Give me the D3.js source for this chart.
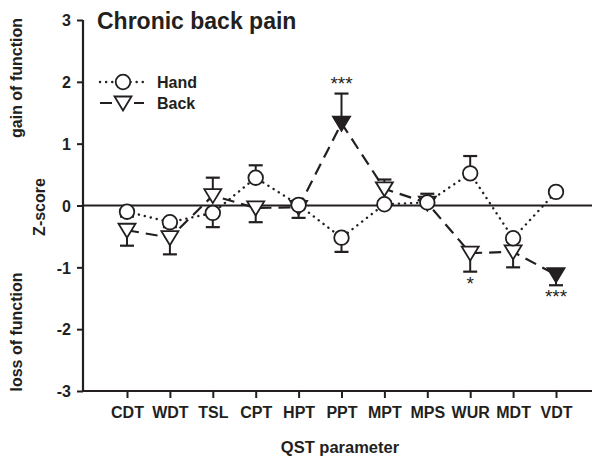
<!DOCTYPE html>
<html>
<head>
<meta charset="utf-8">
<title>Chronic back pain</title>
<script src="https://cdn.jsdelivr.net/npm/d3@7"></script>
<style>
  body { margin: 0; background: #fff; }
  text { font-family: "Liberation Sans", Arial, sans-serif; font-weight: bold; fill: #231f20; }
</style>
</head>
<body>
<div id="chart"></div>
<script>
// QST parameters along the x axis
const params = ["CDT", "WDT", "TSL", "CPT", "HPT", "PPT", "MPT", "MPS", "WUR", "MDT", "VDT"];
// mean Z-scores and SEM
const handMean = [-0.10, -0.27, -0.12, 0.45, 0.01, -0.52, 0.02, 0.05, 0.52, -0.53, 0.22];
const handErr  = [0.08, 0.08, 0.23, 0.20, 0.07, 0.23, 0.05, 0.06, 0.28, 0.06, 0.05];
const backMean = [-0.40, -0.52, 0.16, -0.04, -0.03, 1.33, 0.27, 0.04, -0.77, -0.75, -1.12];
const backErr  = [0.25, 0.27, 0.29, 0.23, 0.17, 0.48, 0.15, 0.15, 0.30, 0.25, 0.17];
// significance marks on back values
const backSig  = ["", "", "", "", "", "***", "", "", "*", "", "***"];
const backFilled = [false, false, false, false, false, true, false, false, false, false, true];
const yTicks = [-3, -2, -1, 0, 1, 2, 3];

const W = 592, H = 457;
const margin = {top: 20, right: 0, bottom: 66, left: 83};

const svg = d3.select("#chart").append("svg")
    .attr("width", W)
    .attr("height", H);

const x = d3.scalePoint()
    .domain(params)
    .range([127, 556]);

const y = d3.scaleLinear()
    .domain([-3, 3])
    .range([391, 20]);

const ink = "#231f20";

// axes
const yAxis = svg.append("g")
    .attr("transform", "translate(" + margin.left + ",0)")
    .call(d3.axisLeft(y).tickValues(yTicks).tickFormat(function(d) { return String(d); }).tickSize(6).tickPadding(6));
yAxis.select(".domain").attr("stroke", ink).attr("stroke-width", 2.2).attr("d", "M0," + y(3) + "V" + y(-3));
yAxis.selectAll(".tick line").attr("stroke", ink).attr("stroke-width", 2);
yAxis.selectAll(".tick text").style("font-size", "16px").attr("dy", "0.36em");

const xAxis = svg.append("g")
    .attr("transform", "translate(0," + y(-3) + ")")
    .call(d3.axisBottom(x).tickSize(7).tickPadding(9));
xAxis.select(".domain").attr("stroke", ink).attr("stroke-width", 2.2).attr("d", "M" + margin.left + ",0H" + W);
xAxis.selectAll(".tick line").attr("stroke", ink).attr("stroke-width", 2);
xAxis.selectAll(".tick text").style("font-size", "16px");

// zero line
svg.append("line")
    .attr("x1", margin.left).attr("x2", W)
    .attr("y1", y(0)).attr("y2", y(0))
    .attr("stroke", ink).attr("stroke-width", 2);

// titles
svg.append("text")
    .attr("x", 97).attr("y", 29)
    .style("font-size", "23px")
    .text("Chronic back pain");

svg.append("text")
    .attr("x", 340).attr("y", 453)
    .attr("text-anchor", "middle")
    .style("font-size", "16.5px")
    .text("QST parameter");

[["gain of function", 78, 22], ["Z-score", 207, 45], ["loss of function", 332, 22]].forEach(function(l) {
    svg.append("text")
        .attr("transform", "translate(" + l[2] + "," + l[1] + ") rotate(-90)")
        .attr("text-anchor", "middle")
        .style("font-size", "16px")
        .text(l[0]);
});

const hand = params.map(function(p, i) { return {p: p, v: handMean[i], e: handErr[i]}; });
const back = params.map(function(p, i) {
    return {p: p, v: backMean[i], e: backErr[i], sig: backSig[i], filled: backFilled[i]};
});

const line = d3.line()
    .x(function(d) { return x(d.p); })
    .y(function(d) { return y(d.v); });

// error bars, one-sided away from zero
function errorBars(data, cls) {
    const g = svg.append("g").attr("class", cls);
    data.forEach(function(d) {
        const end = d.v >= 0 ? d.v + d.e : d.v - d.e;
        g.append("line")
            .attr("x1", x(d.p)).attr("x2", x(d.p))
            .attr("y1", y(d.v)).attr("y2", y(end))
            .attr("stroke", ink).attr("stroke-width", 2);
        g.append("line")
            .attr("x1", x(d.p) - 7).attr("x2", x(d.p) + 7)
            .attr("y1", y(end)).attr("y2", y(end))
            .attr("stroke", ink).attr("stroke-width", 2.2);
    });
}

errorBars(back, "back-err");
errorBars(hand, "hand-err");

svg.append("path")
    .datum(back)
    .attr("fill", "none")
    .attr("stroke", ink)
    .attr("stroke-width", 2.2)
    .attr("stroke-dasharray", "12,7")
    .attr("d", line);

svg.append("path")
    .datum(hand)
    .attr("fill", "none")
    .attr("stroke", ink)
    .attr("stroke-width", 2.4)
    .attr("stroke-linecap", "round")
    .attr("stroke-dasharray", "0.1,6")
    .attr("d", line);

const tri = "M-8.5,-6.5L8.5,-6.5L0,7.5Z";

svg.selectAll(".tri").data(back).enter()
    .append("path")
    .attr("class", "tri")
    .attr("transform", function(d) { return "translate(" + x(d.p) + "," + y(d.v) + ")"; })
    .attr("d", tri)
    .attr("fill", function(d) { return d.filled ? ink : "#fff"; })
    .attr("stroke", ink)
    .attr("stroke-width", 1.8);

svg.selectAll(".circ").data(hand).enter()
    .append("circle")
    .attr("class", "circ")
    .attr("cx", function(d) { return x(d.p); })
    .attr("cy", function(d) { return y(d.v); })
    .attr("r", 7.3)
    .attr("fill", "#fff")
    .attr("stroke", ink)
    .attr("stroke-width", 1.8);

// significance stars
svg.selectAll(".sig").data(back.filter(function(d) { return d.sig; })).enter()
    .append("text")
    .attr("class", "sig")
    .attr("x", function(d) { return x(d.p); })
    .attr("y", function(d) {
        return d.v >= 0 ? y(d.v + d.e) - 4 : y(d.v - d.e) + 18;
    })
    .attr("text-anchor", "middle")
    .style("font-size", "19px")
    .style("font-weight", "normal")
    .text(function(d) { return d.sig; });

// legend
const leg = svg.append("g").attr("transform", "translate(100,82)");
leg.append("line")
    .attr("x1", 0).attr("x2", 44).attr("y1", 0).attr("y2", 0)
    .attr("stroke", ink).attr("stroke-width", 2.4)
    .attr("stroke-linecap", "round").attr("stroke-dasharray", "0.1,6");
leg.append("circle")
    .attr("cx", 23).attr("cy", 0).attr("r", 7.3)
    .attr("fill", "#fff").attr("stroke", ink).attr("stroke-width", 1.8);
leg.append("text").attr("x", 57).attr("y", 6).style("font-size", "16px").text("Hand");

leg.append("line")
    .attr("x1", 0).attr("x2", 44).attr("y1", 21).attr("y2", 21)
    .attr("stroke", ink).attr("stroke-width", 2.2);
leg.append("line")
    .attr("x1", 12).attr("x2", 34).attr("y1", 21).attr("y2", 21)
    .attr("stroke", "#fff").attr("stroke-width", 4);
leg.append("path")
    .attr("transform", "translate(23,21)")
    .attr("d", tri)
    .attr("fill", "#fff").attr("stroke", ink).attr("stroke-width", 1.8);
leg.append("text").attr("x", 57).attr("y", 27).style("font-size", "16px").text("Back");
</script>
</body>
</html>
